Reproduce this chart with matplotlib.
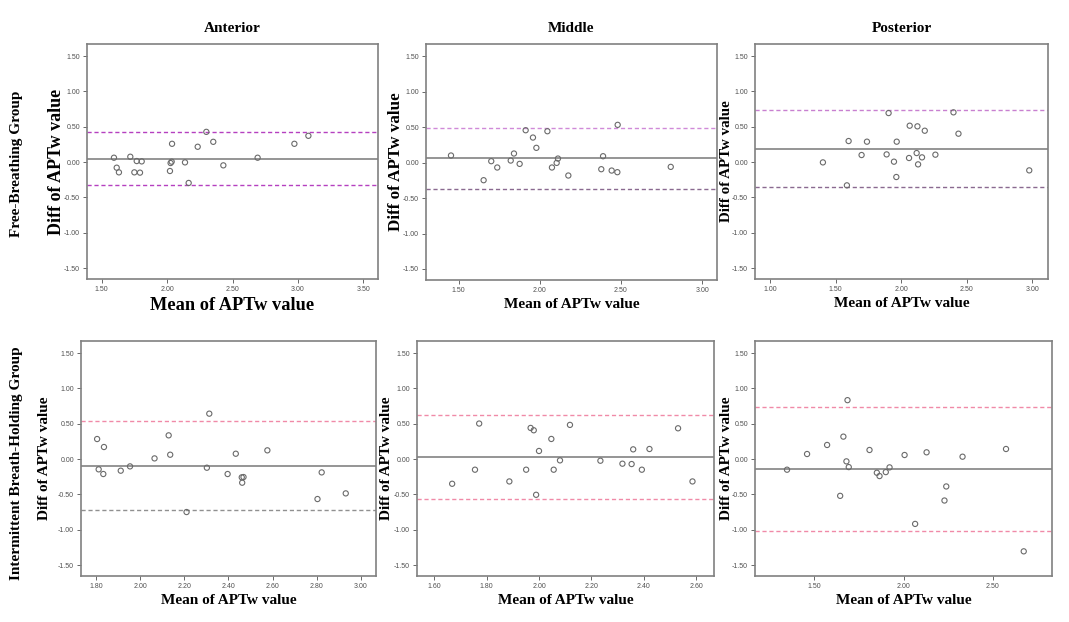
import matplotlib
matplotlib.use("Agg")
import matplotlib.pyplot as plt

# Free-breathing group
fb_ant_x = [1.594, 1.615, 1.632, 1.719, 1.750, 1.768, 1.793, 1.806, 2.022, 2.027, 2.035, 2.038,
            2.137, 2.165, 2.234, 2.300, 2.353, 2.430, 2.692, 2.973, 3.080]
fb_ant_y = [0.061, -0.080, -0.146, 0.075, -0.146, 0.014, -0.150, 0.009, -0.127, -0.014, 0.005, 0.258,
            -0.005, -0.296, 0.216, 0.427, 0.286, -0.047, 0.061, 0.258, 0.371]
fb_mid_x = [1.453, 1.654, 1.701, 1.738, 1.821, 1.841, 1.876, 1.913, 1.958, 1.979, 2.047, 2.075,
            2.104, 2.112, 2.176, 2.379, 2.390, 2.443, 2.478, 2.480, 2.807]
fb_mid_y = [0.099, -0.249, 0.019, -0.070, 0.028, 0.127, -0.019, 0.455, 0.352, 0.207, 0.441, -0.070,
            -0.005, 0.056, -0.183, -0.094, 0.089, -0.113, -0.136, 0.531, -0.061]
fb_post_x = [1.403, 1.586, 1.599, 1.698, 1.739, 1.889, 1.904, 1.945, 1.963, 1.966, 2.060, 2.065,
             2.118, 2.124, 2.129, 2.159, 2.180, 2.261, 2.399, 2.437, 2.977]
fb_post_y = [-0.005, -0.330, 0.297, 0.099, 0.288, 0.108, 0.693, 0.005, -0.212, 0.288, 0.057, 0.514,
             0.127, 0.505, -0.033, 0.066, 0.443, 0.104, 0.703, 0.401, -0.118]

# Intermittent breath-holding group
bh_ant_x = [1.805, 1.812, 1.833, 1.836, 1.912, 1.954, 2.065, 2.129, 2.136, 2.210, 2.302, 2.313,
            2.396, 2.433, 2.460, 2.468, 2.462, 2.576, 2.803, 2.822, 2.931]
bh_ant_y = [0.283, -0.146, -0.212, 0.170, -0.165, -0.104, 0.009, 0.335, 0.061, -0.750, -0.123, 0.642,
            -0.212, 0.075, -0.259, -0.255, -0.335, 0.123, -0.566, -0.189, -0.486]
bh_mid_x = [1.669, 1.756, 1.772, 1.887, 1.951, 1.968, 1.980, 1.989, 2.000, 2.047, 2.056, 2.080,
            2.118, 2.234, 2.318, 2.353, 2.359, 2.392, 2.421, 2.530, 2.585]
bh_mid_y = [-0.350, -0.151, 0.502, -0.317, -0.151, 0.440, 0.407, -0.506, 0.114, 0.284, -0.151, -0.019,
            0.483, -0.024, -0.066, -0.071, 0.137, -0.151, 0.142, 0.435, -0.317]
bh_post_x = [1.349, 1.461, 1.573, 1.646, 1.664, 1.681, 1.687, 1.694, 1.810, 1.851, 1.866, 1.901,
             1.922, 2.006, 2.065, 2.129, 2.229, 2.239, 2.330, 2.573, 2.672]
bh_post_y = [-0.151, 0.071, 0.199, -0.521, 0.317, -0.033, 0.833, -0.114, 0.128, -0.194, -0.241, -0.185,
             -0.118, 0.057, -0.918, 0.095, -0.587, -0.388, 0.033, 0.142, -1.306]

# bias and limits of agreement (mean, upper, lower)
fb_lines = [(0.047, 0.423, -0.329), (0.066, 0.484, -0.366), (0.189, 0.741, -0.354)]
bh_lines = [(-0.099, 0.538, -0.726), (0.028, 0.620, -0.563), (-0.137, 0.743, -1.022)]

col_titles = ["Anterior", "Middle", "Posterior"]
row_titles = ["Free-Breathing Group", "Intermittent Breath-Holding Group"]

fb_xticks = [[1.50, 2.00, 2.50, 3.00, 3.50], [1.50, 2.00, 2.50, 3.00], [1.00, 1.50, 2.00, 2.50, 3.00]]
bh_xticks = [[1.80, 2.00, 2.20, 2.40, 2.60, 2.80, 3.00], [1.60, 1.80, 2.00, 2.20, 2.40, 2.60],
             [1.50, 2.00, 2.50]]
fb_xlims = [(1.388, 3.612), (1.299, 3.092), (0.885, 3.12)]
bh_xlims = [(1.732, 3.068), (1.535, 2.667), (1.170, 2.830)]
yticks = [1.50, 1.00, 0.50, 0.00, -0.50, -1.00, -1.50]

# line colours for upper / lower limits
fb_colors = [("#b540c0", "#b540c0"), ("#d08ad8", "#8a6a90"), ("#c880d0", "#8a6a90")]
bh_colors = [("#f08aa8", "#909090"), ("#f08aa8", "#f08aa8"), ("#f08aa8", "#f08aa8")]

W, H = 1069, 622
fb_boxes = [(87, 378, 44, 279), (426, 717, 44, 280), (755, 1048, 44, 279)]
bh_boxes = [(81, 376, 341, 576), (417, 714, 341, 576), (755, 1052, 341, 576)]
fb_ylab_x = [57, 396, 726]
bh_ylab_x = [45, 387, 727]
# the sub-images were pasted at slightly different scales
fb_xl_size = [13.2, 11, 11]
fb_yl_size = [13, 12.3, 10.8]

fig = plt.figure(figsize=(W / 100, H / 100), dpi=100)
serif = "Liberation Serif"
grey = "#808080"


def draw(box, xs, ys, lines, colors, xticks, xlim, ylab_x, xl_size, yl_size):
    l, r, t, b = box
    ax = fig.add_axes([l / W, 1 - b / H, (r - l) / W, (b - t) / H])
    ax.scatter(xs, ys, s=14, facecolors="none", edgecolors="#6a6a6a", linewidths=0.8, zorder=3)
    ax.axhline(lines[0], color="#8c8c8c", lw=1.3)
    ax.axhline(lines[1], color=colors[0], lw=1.0, ls=(0, (3, 2)))
    ax.axhline(lines[2], color=colors[1], lw=1.0, ls=(0, (3, 2)))
    ax.set_xlim(*xlim)
    ax.set_ylim(-1.655, 1.67)
    ax.set_xticks(xticks)
    ax.set_xticklabels([f"{v:.2f}" for v in xticks])
    ax.set_yticks(yticks)
    ax.set_yticklabels([f"{v:.2f}" for v in yticks])
    ax.tick_params(labelsize=5, colors="#505050", length=3, width=0.6, pad=2,
                   labelfontfamily="Liberation Sans")
    for sp in ax.spines.values():
        sp.set_color(grey)
        sp.set_linewidth(1.2)
    ax.set_xlabel("Mean of APTw value", fontfamily=serif, fontweight="bold", fontsize=xl_size, labelpad=3)
    ax.set_ylabel("Diff of APTw value", fontfamily=serif, fontweight="bold", fontsize=yl_size,
                  va="center")
    ax.yaxis.set_label_coords((ylab_x - l) / (r - l), 0.5)
    return ax


for i in range(3):
    xs = [fb_ant_x, fb_mid_x, fb_post_x][i]
    ys = [fb_ant_y, fb_mid_y, fb_post_y][i]
    ax = draw(fb_boxes[i], xs, ys, fb_lines[i], fb_colors[i], fb_xticks[i], fb_xlims[i],
              fb_ylab_x[i], fb_xl_size[i], fb_yl_size[i])
    ax.set_title(col_titles[i], fontfamily=serif, fontweight="bold", fontsize=11, pad=9)

for i in range(3):
    xs = [bh_ant_x, bh_mid_x, bh_post_x][i]
    ys = [bh_ant_y, bh_mid_y, bh_post_y][i]
    draw(bh_boxes[i], xs, ys, bh_lines[i], bh_colors[i], bh_xticks[i], bh_xlims[i],
         bh_ylab_x[i], 11, 11)

fig.text(17 / W, 1 - 164 / H, row_titles[0], rotation=90, ha="center", va="center",
         fontfamily=serif, fontweight="bold", fontsize=11)
fig.text(17 / W, 1 - 463 / H, row_titles[1], rotation=90, ha="center", va="center",
         fontfamily=serif, fontweight="bold", fontsize=11)

fig.savefig("out.png", dpi=100)
